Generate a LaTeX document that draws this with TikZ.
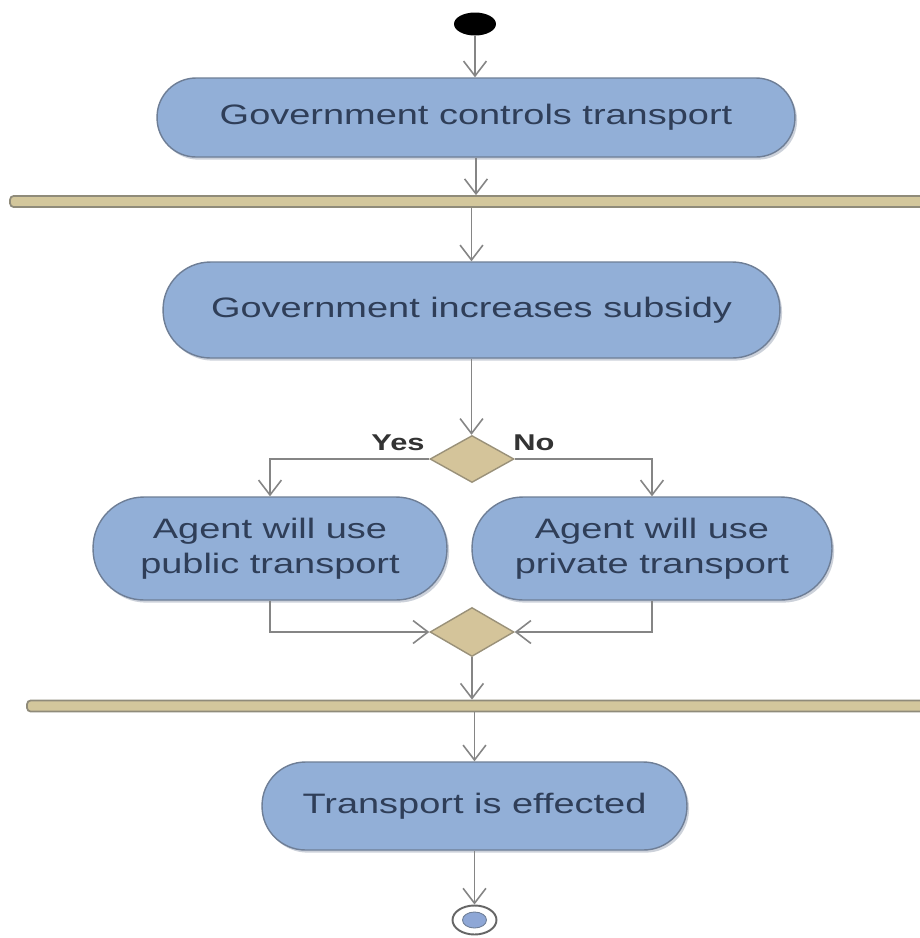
\documentclass[tikz,border=0pt]{standalone}
\usepackage{fontspec}
\setmainfont{Liberation Sans}[FakeStretch=1.35]
\usetikzlibrary{arrows.meta,shapes.geometric,shadows}
\definecolor{actfill}{HTML}{92AFD7}
\definecolor{actdraw}{HTML}{6E7E96}
\definecolor{acttext}{HTML}{2F3E58}
\definecolor{barfill}{HTML}{D3C79C}
\definecolor{bardraw}{HTML}{8F8B7A}
\definecolor{decfill}{HTML}{D4C49A}
\definecolor{decdraw}{HTML}{9A9179}
\definecolor{linecol}{HTML}{858585}
\definecolor{endfill}{HTML}{8EA7D6}
\tikzset{
  action/.style={draw=actdraw, fill=actfill, line width=0.8pt, text=acttext,
    align=center, inner sep=0pt,
    font=\fontsize{16}{20}\selectfont,
    drop shadow={opacity=0.35, shadow xshift=1.2pt, shadow yshift=-1.5pt, fill=actdraw}},
  syncbar/.style={draw=bardraw, fill=barfill, line width=1pt, rectangle,
    rounded corners=2pt, inner sep=0pt, minimum height=0.22cm},
  decision/.style={diamond, draw=decdraw, fill=decfill, line width=0.8pt,
    inner sep=0pt, minimum width=1.68cm, minimum height=0.94cm},
  flow/.style={draw=linecol, line width=0.9pt,
    -{Straight Barb[length=8.5pt, width=13pt, line width=0.9pt]}},
  guard/.style={text=black!80, font=\fontsize{13}{15}\selectfont\bfseries, inner sep=0pt}
}
\begin{document}
\begin{tikzpicture}[x=0.02cm, y=-0.02cm]
\clip (0,0) rectangle (920,938);
\fill[white] (0,0) rectangle (920,938);

% initial node
\node[ellipse, fill=black, inner sep=0pt, minimum width=0.84cm, minimum height=0.46cm] (init) at (475,24) {};

% actions
\node[action, minimum width=12.76cm, minimum height=1.58cm, rounded corners=0.78cm] (a1) at (476,117.5) {Government controls transport};
\node[syncbar, minimum width=18.3cm] (bar1) at (467.5,201.5) {};
\node[action, minimum width=12.34cm, minimum height=1.92cm, rounded corners=0.95cm] (a2) at (471.5,310) {Government increases subsidy};
\node[decision] (d1) at (472,459) {};
\node[guard] (yes) at (398,443) {Yes};
\node[guard] (no) at (534,443) {No};
\node[action, minimum width=7.08cm, minimum height=2.06cm, rounded corners=1.02cm] (a3) at (270,548.5) {Agent will use\\public transport};
\node[action, minimum width=7.2cm, minimum height=2.06cm, rounded corners=1.02cm] (a4) at (652,548.5) {Agent will use\\private transport};
\node[decision, minimum height=0.98cm] (d2) at (472,632) {};
\node[syncbar, minimum width=17.96cm] (bar2) at (476,706) {};
\node[action, minimum width=8.5cm, minimum height=1.76cm, rounded corners=0.87cm] (a5) at (474.5,806) {Transport is effected};

% final node
\node[ellipse, draw=black!60, fill=white, line width=1.1pt, inner sep=0pt, minimum width=0.88cm, minimum height=0.58cm] (final) at (474.5,920) {};
\node[ellipse, draw=actdraw, fill=endfill, line width=0.5pt, inner sep=0pt, minimum width=0.48cm, minimum height=0.32cm] (finalin) at (final.center) {};

% connectors
\draw[flow] (init.south) -- (init.south |- a1.north);
\draw[flow] (a1.south) -- (a1.south |- bar1.north);
\draw[flow] (a2.north |- bar1.south) -- (a2.north);
\draw[flow] (a2.south) -- (a2.south |- d1.north);
\draw[flow] (d1.west) -| (a3.north);
\draw[flow] (d1.east) -| (a4.north);
\draw[flow] (a3.south) |- (d2.west);
\draw[flow] (a4.south) |- (d2.east);
\draw[flow] (d2.south) -- (d2.south |- bar2.north);
\draw[flow] (a5.north |- bar2.south) -- (a5.north);
\draw[flow] (a5.south) -- (final.north);
\end{tikzpicture}
\end{document}
